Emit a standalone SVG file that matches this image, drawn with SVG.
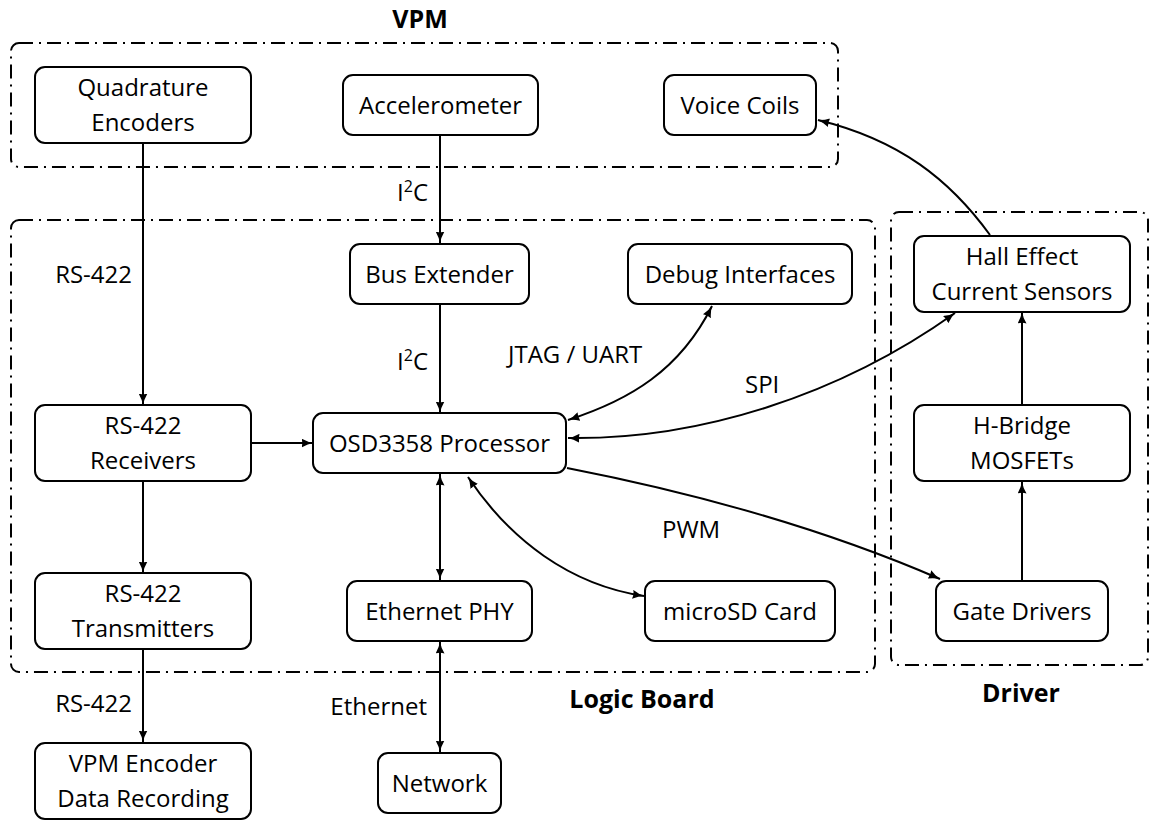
<svg xmlns="http://www.w3.org/2000/svg" width="1151" height="824" viewBox="0 0 1151 824">
  <style>
    .box { fill: #fff; stroke: #000; stroke-width: 2; }
    .grp { fill: none; stroke: #000; stroke-width: 2; stroke-dasharray: 14 6 2 6; }
    .lbl { font-family: "Open Sans", "Noto Sans", sans-serif; font-size: 24px; fill: #000; text-anchor: middle; }
    .elbl { font-family: "Open Sans", "Noto Sans", sans-serif; font-size: 24px; fill: #000; }
    .title { font-family: "Open Sans", "Noto Sans", sans-serif; font-size: 25px; font-weight: bold; fill: #000; text-anchor: middle; }
    .wire { fill: none; stroke: #000; stroke-width: 2; }
    .one { marker-end: url(#ah); }
    .two { marker-start: url(#ah); marker-end: url(#ah); }
  </style>
  <defs>
    <marker id="ah" viewBox="0 0 12 9" refX="11.5" refY="4.5" markerWidth="12" markerHeight="9" markerUnits="userSpaceOnUse" orient="auto-start-reverse">
      <path d="M0,0 Q6,3.6 12,4.5 Q6,5.4 0,9 Q1.5,4.5 0,0 z" fill="#000"/>
    </marker>
  </defs>

  <!-- grouping frames -->
  <g id="frames">
    <rect class="grp" x="11" y="43" width="827" height="124" rx="8"/>
    <rect class="grp" x="11" y="220" width="864" height="452" rx="8"/>
    <rect class="grp" x="891" y="212" width="257" height="453" rx="8"/>
    <text class="title" x="420" y="28">VPM</text>
    <text class="title" x="642" y="708">Logic Board</text>
    <text class="title" x="1021" y="702">Driver</text>
  </g>

  <!-- connectors -->
  <g id="connectors">
    <path class="wire one" d="M143,143 V405"/>
    <path class="wire one" d="M440,135 V243"/>
    <path class="wire one" d="M440,305 V413"/>
    <path class="wire one" d="M251,443 H313"/>
    <path class="wire one" d="M143,481 V573"/>
    <path class="wire one" d="M143,649 V742"/>
    <path class="wire two" d="M440,474 V580"/>
    <path class="wire two" d="M440,642 V752"/>
    <path class="wire two" d="M468,477 C510,540 570,585 644,596"/>
    <path class="wire two" d="M568,420 C630,400 680,370 712,306"/>
    <path class="wire two" d="M568,438 C700,440 840,395 955,313"/>
    <path class="wire one" d="M990,235 C950,180 900,140 818,120"/>
    <path class="wire one" d="M567,468 C690,492 820,527 940,579"/>
    <path class="wire one" d="M1022,581 V482"/>
    <path class="wire one" d="M1022,405 V312"/>

    <text class="elbl" x="428" y="201" text-anchor="end">I<tspan font-size="16" dy="-9">2</tspan><tspan dy="9">C</tspan></text>
    <text class="elbl" x="428" y="370" text-anchor="end">I<tspan font-size="16" dy="-9">2</tspan><tspan dy="9">C</tspan></text>
    <text class="elbl" x="132" y="283" text-anchor="end">RS-422</text>
    <text class="elbl" x="132" y="712" text-anchor="end">RS-422</text>
    <text class="elbl" x="427" y="715" text-anchor="end">Ethernet</text>
    <text class="elbl" x="508" y="363">JTAG / UART</text>
    <text class="elbl" x="745" y="393">SPI</text>
    <text class="elbl" x="662" y="538">PWM</text>
  </g>

  <!-- nodes -->
  <g id="quad">
    <rect class="box" x="35" y="67" width="216" height="76" rx="10"/>
    <text class="lbl" x="143" y="96">Quadrature</text>
    <text class="lbl" x="143" y="131">Encoders</text>
  </g>
  <g id="accel">
    <rect class="box" x="343" y="75" width="195" height="60" rx="10"/>
    <text class="lbl" x="440.5" y="114">Accelerometer</text>
  </g>
  <g id="coils">
    <rect class="box" x="664" y="75" width="152" height="60" rx="10"/>
    <text class="lbl" x="740" y="114">Voice Coils</text>
  </g>
  <g id="busext">
    <rect class="box" x="350" y="244" width="179" height="60" rx="10"/>
    <text class="lbl" x="439.5" y="283">Bus Extender</text>
  </g>
  <g id="debug">
    <rect class="box" x="628" y="244" width="224" height="60" rx="10"/>
    <text class="lbl" x="740" y="283">Debug Interfaces</text>
  </g>
  <g id="cpu">
    <rect class="box" x="313" y="413" width="253" height="60" rx="10"/>
    <text class="lbl" x="439.5" y="452">OSD3358 Processor</text>
  </g>
  <g id="rx">
    <rect class="box" x="35" y="405" width="216" height="76" rx="10"/>
    <text class="lbl" x="143" y="434">RS-422</text>
    <text class="lbl" x="143" y="469">Receivers</text>
  </g>
  <g id="tx">
    <rect class="box" x="35" y="573" width="216" height="76" rx="10"/>
    <text class="lbl" x="143" y="602">RS-422</text>
    <text class="lbl" x="143" y="637">Transmitters</text>
  </g>
  <g id="phy">
    <rect class="box" x="347" y="581" width="185" height="60" rx="10"/>
    <text class="lbl" x="439.5" y="620">Ethernet PHY</text>
  </g>
  <g id="sd">
    <rect class="box" x="645" y="581" width="190" height="60" rx="10"/>
    <text class="lbl" x="740" y="620">microSD Card</text>
  </g>
  <g id="hall">
    <rect class="box" x="914" y="236" width="216" height="76" rx="10"/>
    <text class="lbl" x="1022" y="265">Hall Effect</text>
    <text class="lbl" x="1022" y="300">Current Sensors</text>
  </g>
  <g id="hbridge">
    <rect class="box" x="914" y="405" width="216" height="76" rx="10"/>
    <text class="lbl" x="1022" y="434">H-Bridge</text>
    <text class="lbl" x="1022" y="469">MOSFETs</text>
  </g>
  <g id="gates">
    <rect class="box" x="936" y="581" width="172" height="60" rx="10"/>
    <text class="lbl" x="1022" y="620">Gate Drivers</text>
  </g>
  <g id="recorder">
    <rect class="box" x="35" y="743" width="216" height="76" rx="10"/>
    <text class="lbl" x="143" y="772">VPM Encoder</text>
    <text class="lbl" x="143" y="807">Data Recording</text>
  </g>
  <g id="network">
    <rect class="box" x="378" y="753" width="123" height="60" rx="10"/>
    <text class="lbl" x="439.5" y="792">Network</text>
  </g>
</svg>
